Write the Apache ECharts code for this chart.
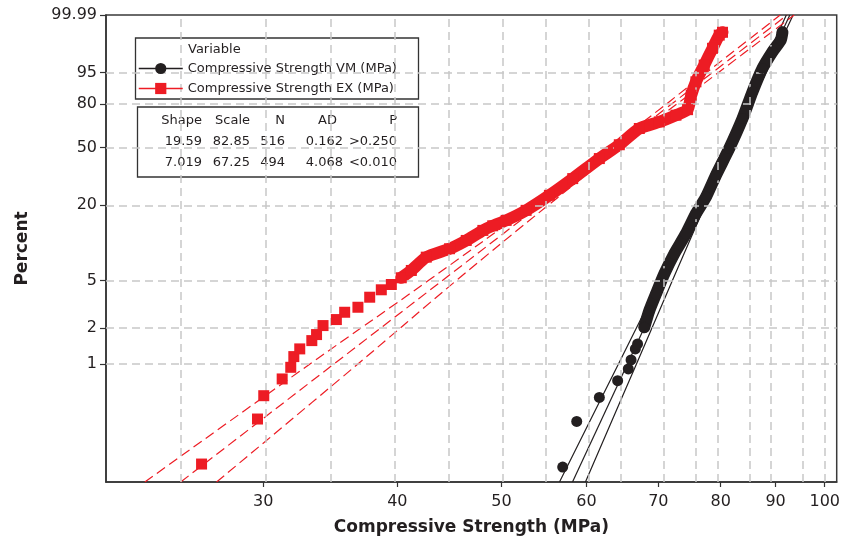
<!DOCTYPE html>
<html><head><meta charset="utf-8">
<script src="https://cdn.jsdelivr.net/npm/echarts@6/dist/echarts.min.js"></script>
<style>html,body{margin:0;padding:0;background:#fff}#c{width:843px;height:543px}</style>
</head><body><div id="c"></div>
<script>
// ---- axes ----
const xTickLabels = [30, 40, 50, 60, 70, 80, 90, 100];
const xGridValues = [25, 30, 35, 40, 45, 50, 55, 60, 65, 70, 75, 80, 85, 90, 95, 100];
const yTickLabels = [1, 2, 5, 20, 50, 80, 95, 99.99];
const yGridValues = [1, 2, 5, 20, 50, 80, 95];
const xRange = [21.42, 102.6];      // MPa
const yRange = [0.1, 99.99];        // percent

// ---- names ----
const nameVM = 'Compressive Strength VM (MPa)';
const nameEX = 'Compressive Strength EX (MPa)';

// ---- data points [MPa, percent] ----
const vmPoints = [[57.02,0.134],[58.76,0.326],[61.68,0.521],[64.15,0.722],[65.63,0.908],[66.02,1.082],
  [66.63,1.34],[66.95,1.477],[67.92,2.038],[68.66,2.815],[69.65,3.883],[70.90,5.691],[72.43,8.299],
  [74.27,12.03],[75.87,17.27],[77.52,23.09],[79.19,33.06],[81.48,49.2],[83.84,70.43],[85.65,87.14],
  [87.50,96.10],[89.40,98.88],[91.02,99.65],[91.33,99.86]];
const exPoints = [[26.29,0.142],[29.64,0.342],[30.04,0.539],[31.25,0.747],[31.83,0.937],[32.04,1.154],
  [32.45,1.34],[33.30,1.574],[33.64,1.769],[34.11,2.106],[35.10,2.365],[35.73,2.723],[36.76,2.999],
  [37.70,3.637],[38.65,4.193],[39.49,4.64],[40.34,5.274],[41.22,6.058],[42.56,7.786],[44.74,9.114],
  [46.37,10.63],[48.05,12.78],[49.08,13.9],[50.51,15.32],[52.72,18.32],[55.42,23.77],[58.26,31.36],
  [61.68,42.69],[64.38,51.78],[67.20,63.28],[70.14,68.02],[72.69,72.74],[74.52,76.5],[75.11,85.38],
  [75.87,91.75],[77.23,96.86],[78.62,99.18],[79.76,99.80],[80.32,99.86]];
const vmDenseFrom = 8;
const exDenseFrom = 16;

// ---- fitted lines and confidence bands [MPa, percent] ----
const vmFit = [[58.23,0.1],[92.79,99.99]];
const vmBandLow = [[56.63,0.1],[64.26,1],[70.25,5],[76.12,20],[82.50,63.2],[87.07,95],[92.10,99.99]];
const vmBandHigh = [[59.87,0.1],[66.79,1],[72.14,5],[77.37,20],[83.21,63.2],[88.19,95],[93.45,99.99]];
const exFit = [[25.14,0.1],[92.27,99.99]];
const exBandLow = [[23.28,0.1],[33.17,1],[42.75,5],[53.40,20],[66.50,63.2],[77.63,95],[90.90,99.99]];
const exBandHigh = [[27.15,0.1],[36.76,1],[45.39,5],[55.26,20],[68.00,63.2],[79.64,95],[93.66,99.99]];

// ---- stats table ----
const statsHeader = ['Shape', 'Scale', 'N', 'AD', 'P'];
const statsVM = ['19.59', '82.85', '516', '0.162', '>0.250'];
const statsEX = ['7.019', '67.25', '494', '4.068', '<0.010'];

// ---- transforms (Weibull probability paper) ----
const TX = v => Math.log10(v);
const TY = p => Math.log(-Math.log(1 - p / 100));
const tr = arr => arr.map(d => [TX(d[0]), TY(d[1])]);

const FONT = 'DejaVu Sans';
const BLACK = '#231f20', RED = '#ed1c24';

function nearestLabel(v, list, f) {
  let best = list[0], bd = Infinity;
  list.forEach(l => { const d = Math.abs(f(l) - v); if (d < bd) { bd = d; best = l; } });
  return String(best);
}

const chart = echarts.init(document.getElementById('c'), null, {renderer: 'canvas'});

const gridMark = {
  silent: true, symbol: ['none', 'none'], label: {show: false},
  lineStyle: {color: '#c8c8c8', type: [8, 5], width: 1.5},
  emphasis: {disabled: true},
  data: xGridValues.map(v => ({xAxis: TX(v)})).concat(yGridValues.map(v => ({yAxis: TY(v)})))
};

// stats table layout
const colRight = [202, 250, 285, 343, 397];
const graphics = [
  {type: 'rect', shape: {x: 135.5, y: 38, width: 283, height: 61}, style: {fill: '#fff', stroke: '#333', lineWidth: 1.3}, z: 3},
  {type: 'rect', shape: {x: 137.5, y: 107, width: 281, height: 70}, style: {fill: '#fff', stroke: '#333', lineWidth: 1.3}, z: 3},
  {type: 'text', x: 188, y: 50, z: 5, style: {text: 'Variable', fontFamily: FONT, fontSize: 13, fill: BLACK, align: 'left', verticalAlign: 'middle'}}
];
[[statsHeader, 121], [statsVM, 142], [statsEX, 162.5]].forEach(([row, y]) => {
  row.forEach((t, i) => {
    const xr = (row === statsHeader && i === 3) ? 337 : colRight[i];
    graphics.push({type: 'text', x: xr, y: y, z: 5,
      style: {text: t, fontFamily: FONT, fontSize: 13, fill: BLACK, align: 'right', verticalAlign: 'middle'}});
  });
});

const option = {
  animation: false,
  backgroundColor: '#fff',
  grid: {left: 106, top: 15, width: 732, height: 467, show: true, borderColor: '#3a3a3a', borderWidth: 1.5},
  xAxis: {
    type: 'value', min: TX(xRange[0]), max: TX(xRange[1]),
    name: 'Compressive Strength (MPa)', nameLocation: 'middle', nameGap: 37,
    nameTextStyle: {fontFamily: FONT, fontSize: 17, fontWeight: 'bold', color: BLACK},
    axisLine: {show: true, onZero: false, lineStyle: {color: '#333', width: 1.5}},
    axisTick: {show: true, length: 5, customValues: xTickLabels.map(TX), lineStyle: {color: '#333', width: 1.2}},
    axisLabel: {show: true, margin: 12, customValues: xTickLabels.map(TX), fontFamily: FONT, fontSize: 16, color: BLACK,
      formatter: v => nearestLabel(v, xTickLabels, TX)},
    splitLine: {show: false}
  },
  yAxis: {
    type: 'value', min: TY(yRange[0]), max: TY(yRange[1]),
    name: 'Percent', nameLocation: 'middle', nameGap: 75, nameRotate: 90,
    nameTextStyle: {fontFamily: FONT, fontSize: 17, fontWeight: 'bold', color: BLACK},
    axisLine: {show: true, onZero: false, lineStyle: {color: '#333', width: 1.5}},
    axisTick: {show: true, length: 6, customValues: yTickLabels.map(TY), lineStyle: {color: '#333', width: 1.2}},
    axisLabel: {show: true, margin: 9, customValues: yTickLabels.map(TY), fontFamily: FONT, fontSize: 16, color: BLACK,
      formatter: v => nearestLabel(v, yTickLabels, TY)},
    splitLine: {show: false}
  },
  legend: {
    data: [nameVM, nameEX], orient: 'vertical', left: 133, top: 57,
    itemWidth: 44, itemHeight: 14, itemGap: 7, selectedMode: false,
    lineStyle: {type: 'solid', width: 1.5},
    textStyle: {fontFamily: FONT, fontSize: 13, color: BLACK}, z: 6
  },
  graphic: graphics,
  series: [
    {name: nameVM, type: 'line', data: tr(vmFit), showSymbol: false, symbol: 'circle', symbolSize: 11,
      itemStyle: {color: BLACK}, lineStyle: {color: BLACK, width: 1.2}, z: 3, silent: true},
    {name: nameEX, type: 'line', data: tr(exFit), showSymbol: false, symbol: 'rect', symbolSize: 10,
      itemStyle: {color: RED}, lineStyle: {color: RED, width: 1.2, type: [10, 5]}, z: 3, silent: true},
    {name: 'grid', type: 'line', data: [], markLine: gridMark, z: 1, silent: true},
    {name: 'vmBandLow', type: 'line', data: tr(vmBandLow), smooth: 0.4, showSymbol: false, lineStyle: {color: BLACK, width: 1.2}, z: 3, silent: true},
    {name: 'vmBandHigh', type: 'line', data: tr(vmBandHigh), smooth: 0.4, showSymbol: false, lineStyle: {color: BLACK, width: 1.2}, z: 3, silent: true},
    {name: 'exBandLow', type: 'line', data: tr(exBandLow), smooth: 0.4, showSymbol: false, lineStyle: {color: RED, width: 1.2, type: [10, 5]}, z: 3, silent: true},
    {name: 'exBandHigh', type: 'line', data: tr(exBandHigh), smooth: 0.4, showSymbol: false, lineStyle: {color: RED, width: 1.2, type: [10, 5]}, z: 3, silent: true},
    {name: 'vmDense', type: 'line', data: tr(vmPoints.slice(vmDenseFrom)), showSymbol: false, smooth: 0.2,
      lineStyle: {color: BLACK, width: 12, join: 'round', cap: 'round'}, z: 4, silent: true},
    {name: 'exDense', type: 'line', data: tr(exPoints.slice(exDenseFrom)), showSymbol: false, smooth: 0.2,
      lineStyle: {color: RED, width: 12, join: 'round', cap: 'round'}, z: 4, silent: true},
    {name: nameVM, type: 'scatter', data: tr(vmPoints), symbol: 'circle', symbolSize: 11,
      itemStyle: {color: BLACK, opacity: 1}, z: 5, silent: true},
    {name: nameEX, type: 'scatter', data: tr(exPoints), symbol: 'rect', symbolSize: 11,
      itemStyle: {color: RED, opacity: 1}, z: 5, silent: true}
  ]
};
chart.setOption(option);
</script>
</body></html>
